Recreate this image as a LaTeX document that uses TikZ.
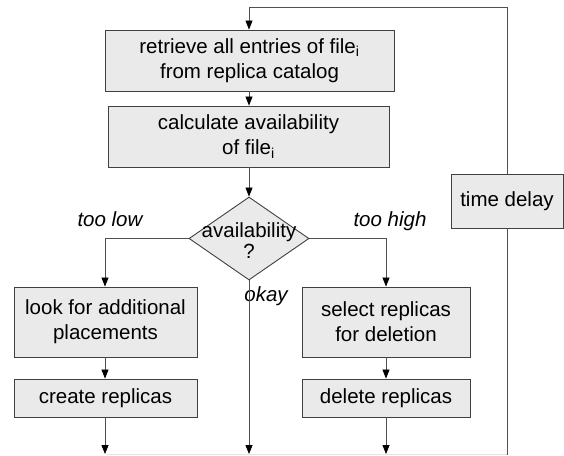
\documentclass[tikz,border=0pt]{standalone}
\usepackage{fontspec}
\setmainfont{Liberation Sans}
\usetikzlibrary{arrows.meta,shapes.geometric}
\definecolor{boxfill}{RGB}{234,234,234}
\definecolor{boxline}{RGB}{64,64,64}
\definecolor{connc}{RGB}{80,80,80}
\begin{document}
\begin{tikzpicture}[x=1pt,y=-1pt,
  stepbox/.style={draw=boxline, fill=boxfill, line width=0.9pt, inner sep=0pt, align=center,
    font=\fontsize{20.5}{25}\selectfont},
  conn/.style={draw=connc, line width=0.8pt},
  arr/.style={conn, -{Triangle[length=9pt,width=7pt,color=black]}},
  lbl/.style={font=\fontsize{20.5}{25}\selectfont\itshape, inner sep=0pt, anchor=base},
]
\useasboundingbox (0,0) rectangle (564,455);
\node[stepbox, minimum width=289pt, minimum height=61pt] (b1) at (249.5,60.5)
  {retrieve all entries of file\textsubscript{i}\\from replica catalog};
\node[stepbox, minimum width=281pt, minimum height=61pt] (b2) at (248.5,136.5)
  {calculate availability\\of file\textsubscript{i}};
\node[draw=boxline, fill=boxfill, line width=0.9pt, shape=diamond, inner sep=0pt,
  minimum width=120pt, minimum height=83pt] (dia) at (249,238.5) {};
\node[inner sep=0pt, align=center, font=\fontsize{20.5}{21}\selectfont] (diat) at (249,241)
  {availability\\?};
\node[stepbox, minimum width=183pt, minimum height=70pt] (b3) at (105.5,322)
  {look for additional\\placements};
\node[stepbox, minimum width=183pt, minimum height=38pt] (b4) at (105.5,398)
  {create replicas};
\node[stepbox, minimum width=168pt, minimum height=70pt] (b5) at (386,322)
  {select replicas\\for deletion};
\node[stepbox, minimum width=168pt, minimum height=38pt] (b6) at (386,398)
  {delete replicas};
\node[stepbox, minimum width=112pt, minimum height=54pt] (td) at (507,201)
  {time delay};

\node[lbl] (low) at (110,226) {too low};
\node[lbl] (high) at (390,226) {too high};
\node[lbl] (ok) at (266,301) {okay};

\coordinate (top) at (249,7);
\coordinate (e1) at (105,454);
\coordinate (e2) at (249,454);
\coordinate (e3) at (386,454);
\coordinate (e4) at (507,455);

\draw[draw=black!10, line width=0.8pt] (107,454.5) -- (507,454.5);
\draw[arr] (td.north) |- (top) -- (b1.north -| top);
\draw[arr] (b1.south -| top) -- (b2.north -| top);
\draw[arr] (b2.south -| top) -- (dia.north);
\draw[arr] (dia.west) -| (b3.north -| e1);
\draw[arr] (dia.east) -| (b5.north);
\draw[arr] (b3.south -| e1) -- (b4.north -| e1);
\draw[arr] (b5.south) -- (b6.north);
\draw[arr] (b4.south -| e1) -- (e1);
\draw[arr] (dia.south) -- (e2);
\draw[arr] (b6.south) -- (e3);
\draw[conn] (td.south) -- (e4);
\end{tikzpicture}
\end{document}
